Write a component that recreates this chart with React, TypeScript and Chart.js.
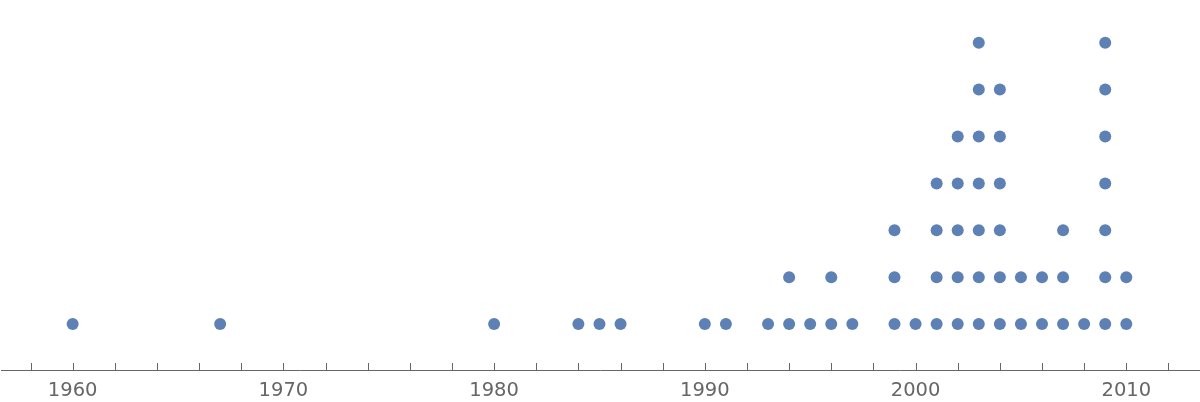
import React, { useEffect, useRef } from "react";
import { Chart, registerables } from "chart.js";

Chart.register(...registerables);

// Years observed and how many observations fall in each year
const years = [1960, 1967, 1980, 1984, 1985, 1986, 1990, 1991, 1993, 1994, 1995, 1996, 1997, 1999, 2000, 2001, 2002, 2003, 2004, 2005, 2006, 2007, 2008, 2009, 2010];
const counts = [1, 1, 1, 1, 1, 1, 1, 1, 1, 2, 1, 2, 1, 3, 1, 4, 5, 7, 6, 2, 2, 3, 1, 7, 2];
const tickValues = [1958, 1960, 1962, 1964, 1966, 1968, 1970, 1972, 1974, 1976, 1978, 1980, 1982, 1984, 1986, 1988, 1990, 1992, 1994, 1996, 1998, 2000, 2002, 2004, 2006, 2008, 2010, 2012];
const labelledTicks = [1960, 1970, 1980, 1990, 2000, 2010];

const DOT = "rgb(94,129,181)";
const AXIS = "rgb(102,102,102)";

const innerTicks = {
  id: "innerTicks",
  afterDraw(chart: any) {
    const xs = chart.scales.x;
    const ctx = chart.ctx;
    const y = chart.chartArea.bottom;
    ctx.save();
    ctx.strokeStyle = AXIS;
    ctx.lineWidth = 1;
    ctx.beginPath();
    for (const v of tickValues) {
      const px = Math.round(xs.getPixelForValue(v)) + 0.5;
      ctx.moveTo(px, y);
      ctx.lineTo(px, y - 7);
    }
    ctx.stroke();
    ctx.restore();
  },
};

export default function App() {
  const ref = useRef<HTMLCanvasElement>(null);
  useEffect(() => {
    document.body.style.margin = "0";
    const points: { x: number; y: number }[] = [];
    years.forEach((yr, i) => {
      for (let k = 1; k <= counts[i]; k++) points.push({ x: yr, y: k });
    });
    const chart = new Chart(ref.current!, {
      type: "scatter",
      data: {
        datasets: [
          {
            data: points,
            backgroundColor: DOT,
            borderColor: DOT,
            borderWidth: 0,
            pointRadius: 6,
            pointHoverRadius: 6,
          },
        ],
      },
      options: {
        animation: false,
        responsive: false,
        devicePixelRatio: 1,
        layout: { autoPadding: false, padding: { left: 1, right: 1, top: 0, bottom: 0 } },
        plugins: { legend: { display: false }, tooltip: { enabled: false } },
        scales: {
          x: {
            type: "linear",
            min: 1956.6,
            max: 2013.45,
            afterBuildTicks: (scale: any) => {
              scale.ticks = tickValues.map((v) => ({ value: v }));
            },
            afterFit: (scale: any) => {
              scale.height = 32;
              scale.paddingLeft = 0;
              scale.paddingRight = 0;
            },
            grid: { display: false, drawTicks: false },
            border: { display: true, color: AXIS, width: 1 },
            ticks: {
              autoSkip: false,
              maxRotation: 0,
              padding: 9,
              color: AXIS,
              font: { family: "DejaVu Sans", size: 19.5 },
              callback: (v: any) => (labelledTicks.includes(Number(v)) ? String(v) : ""),
            },
          },
          y: {
            display: false,
            min: 0.0213,
            max: 7.91,
          },
        },
      },
      plugins: [innerTicks],
    });
    return () => chart.destroy();
  }, []);
  return (
    <div style={{ position: "fixed", left: 0, top: 0, width: 1200, height: 402 }}>
      <canvas ref={ref} width={1200} height={402} />
    </div>
  );
}
